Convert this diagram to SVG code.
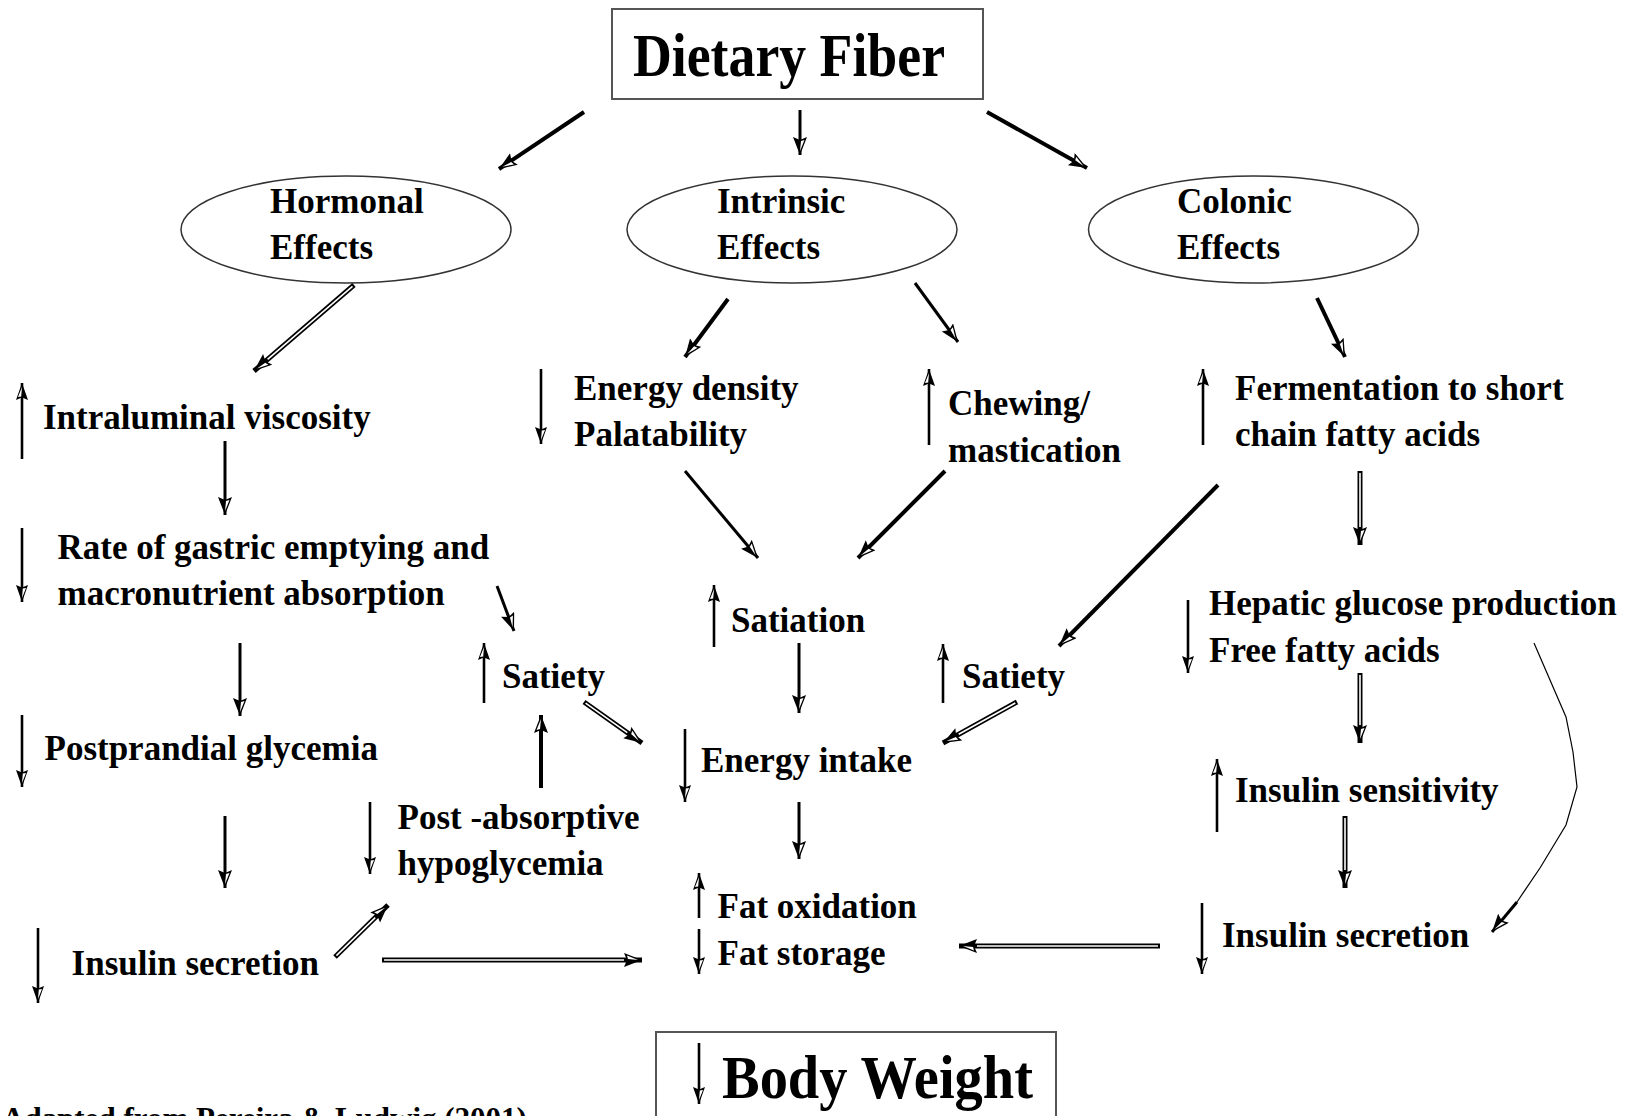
<svg xmlns="http://www.w3.org/2000/svg" width="1644" height="1116" viewBox="0 0 1644 1116">
<style>
text{font-family:"Liberation Serif","Times New Roman",serif;font-weight:bold;fill:#000}
.t{font-size:35px}
.box{fill:#fff;stroke:#555;stroke-width:2}
.ell{fill:#fff;stroke:#333;stroke-width:1.5}
.thick{stroke:#000;stroke-width:4;fill:none;marker-end:url(#hd)}
.med{stroke:#000;stroke-width:3;fill:none;marker-end:url(#hd)}
.ind{stroke:#000;stroke-width:2.6;fill:none;marker-end:url(#hs)}
.dout{stroke:#000;stroke-width:5;fill:none;marker-end:url(#hd)}
.din{stroke:#fff;stroke-width:1.6;fill:none}
.thinc{stroke:#000;stroke-width:1.2;fill:none}
</style>
<defs>
<marker id="hd" markerUnits="userSpaceOnUse" markerWidth="20" markerHeight="16" refX="18" refY="7" orient="auto">
<path d="M0,0 L18,7 L0,14 L3,7 Z" fill="#000"/>
<path d="M3,2.5 L14,7 L4,6 Z" fill="#fff"/>
</marker>
<marker id="hs" markerUnits="userSpaceOnUse" markerWidth="19" markerHeight="14" refX="17" refY="6" orient="auto">
<path d="M0,0 L17,6 L0,12 L2.5,6 Z" fill="#000"/>
<path d="M3,2 L13,6 L3.5,5.2 Z" fill="#fff"/>
</marker>
</defs>
<rect width="1644" height="1116" fill="#fff"/>

<g id="node-dietary-fiber">
<rect class="box" x="612" y="9" width="371" height="90"/>
<text x="633" y="76" font-size="62" textLength="312" lengthAdjust="spacingAndGlyphs">Dietary Fiber</text>
</g>
<g id="node-hormonal">
<ellipse class="ell" cx="346" cy="229.5" rx="165" ry="53.5"/>
<text class="t" x="270" y="213">Hormonal</text>
<text class="t" x="270" y="259">Effects</text>
</g>
<g id="node-intrinsic">
<ellipse class="ell" cx="792" cy="229.5" rx="165" ry="53.5"/>
<text class="t" x="717" y="213">Intrinsic</text>
<text class="t" x="717" y="259">Effects</text>
</g>
<g id="node-colonic">
<ellipse class="ell" cx="1253.5" cy="229.5" rx="165" ry="53.5"/>
<text class="t" x="1177" y="213">Colonic</text>
<text class="t" x="1177" y="259">Effects</text>
</g>

<g id="node-intraluminal">
<line class="ind" x1="22" y1="459" x2="22" y2="383"/>
<text class="t" x="43" y="429">Intraluminal viscosity</text>
</g>
<g id="node-gastric">
<line class="ind" x1="22" y1="528" x2="22" y2="602"/>
<text class="t" x="57.5" y="559">Rate of gastric emptying and</text>
<text class="t" x="57.5" y="605">macronutrient absorption</text>
</g>
<g id="node-postprandial">
<line class="ind" x1="22" y1="715" x2="22" y2="787"/>
<text class="t" x="44.5" y="760">Postprandial glycemia</text>
</g>
<g id="node-insulin-left">
<line class="ind" x1="38" y1="928" x2="38" y2="1003"/>
<text class="t" x="71.6" y="975">Insulin secretion</text>
</g>
<g id="node-satiety-left">
<line class="ind" x1="484" y1="703" x2="484" y2="643"/>
<text class="t" x="502" y="688">Satiety</text>
</g>
<g id="node-hypoglycemia">
<line class="ind" x1="370" y1="802" x2="370" y2="874"/>
<text class="t" x="397.5" y="829">Post -absorptive</text>
<text class="t" x="397.5" y="875">hypoglycemia</text>
</g>
<g id="node-energy-density">
<line class="ind" x1="541" y1="369" x2="541" y2="444"/>
<text class="t" x="574" y="400">Energy density</text>
<text class="t" x="574" y="446">Palatability</text>
</g>
<g id="node-satiation">
<line class="ind" x1="714" y1="647" x2="714" y2="585"/>
<text class="t" x="731" y="632">Satiation</text>
</g>
<g id="node-energy-intake">
<line class="ind" x1="685" y1="729" x2="685" y2="802"/>
<text class="t" x="701" y="772">Energy intake</text>
</g>
<g id="node-fat">
<line class="ind" x1="699" y1="918" x2="699" y2="873"/>
<line class="ind" x1="699" y1="929" x2="699" y2="974"/>
<text class="t" x="717.5" y="918">Fat oxidation</text>
<text class="t" x="717.5" y="965">Fat storage</text>
</g>
<g id="node-chewing">
<line class="ind" x1="929" y1="445" x2="929" y2="369"/>
<text class="t" x="948" y="415">Chewing/</text>
<text class="t" x="948" y="462">mastication</text>
</g>
<g id="node-satiety-right">
<line class="ind" x1="943" y1="703" x2="943" y2="644"/>
<text class="t" x="962" y="688">Satiety</text>
</g>
<g id="node-fermentation">
<line class="ind" x1="1203" y1="445" x2="1203" y2="369"/>
<text class="t" x="1235" y="400">Fermentation to short</text>
<text class="t" x="1235" y="446">chain fatty acids</text>
</g>
<g id="node-hepatic">
<line class="ind" x1="1188" y1="600" x2="1188" y2="673"/>
<text class="t" x="1209" y="615">Hepatic glucose production</text>
<text class="t" x="1209" y="662">Free fatty acids</text>
</g>
<g id="node-insulin-sensitivity">
<line class="ind" x1="1217" y1="832" x2="1217" y2="759"/>
<text class="t" x="1235" y="802">Insulin sensitivity</text>
</g>
<g id="node-insulin-right">
<line class="ind" x1="1202" y1="903" x2="1202" y2="974"/>
<text class="t" x="1222" y="947">Insulin secretion</text>
</g>
<g id="node-body-weight">
<rect class="box" x="656" y="1032" width="400" height="100"/>
<line class="ind" x1="699" y1="1043" x2="699" y2="1104"/>
<text x="722" y="1098" font-size="62" textLength="311" lengthAdjust="spacingAndGlyphs">Body Weight</text>
</g>
<g id="caption">
<text x="2" y="1129" font-size="31">Adapted from Pereira &amp; Ludwig (2001)</text>
</g>

<g id="connectors">
<line class="thick" x1="584" y1="112" x2="499" y2="169"/>
<line class="med" x1="800" y1="110" x2="800" y2="155"/>
<line class="thick" x1="987" y1="112" x2="1087" y2="168"/>
<line class="dout" x1="354" y1="285" x2="254" y2="371"/><line class="din" x1="352.5" y1="286.3" x2="267.6" y2="359.3"/>
<line class="thick" x1="728" y1="299" x2="685" y2="357"/>
<line class="med" x1="915" y1="283" x2="958" y2="342"/>
<line class="thick" x1="1317" y1="298" x2="1345" y2="357"/>
<line class="med" x1="225" y1="441" x2="225" y2="515"/>
<line class="med" x1="497" y1="586" x2="514" y2="631"/>
<line class="med" x1="240" y1="643" x2="240" y2="716"/>
<line class="med" x1="225" y1="816" x2="225" y2="888"/>
<line class="dout" x1="335" y1="957" x2="388" y2="905"/><line class="din" x1="336.4" y1="955.6" x2="375.2" y2="917.6"/>
<line class="dout" x1="382" y1="960" x2="642" y2="960"/><line class="din" x1="384" y1="960" x2="624" y2="960"/>
<line class="thick" x1="541" y1="788" x2="541" y2="715"/>
<line class="dout" x1="584" y1="702" x2="642" y2="743"/><line class="din" x1="585.6" y1="703.2" x2="627.3" y2="732.6"/>
<line class="med" x1="685" y1="471" x2="758" y2="558"/>
<line class="thick" x1="945" y1="471" x2="858" y2="558"/>
<line class="med" x1="799" y1="643" x2="799" y2="713"/>
<line class="med" x1="799" y1="802" x2="799" y2="859"/>
<line class="thick" x1="1218" y1="485" x2="1059" y2="646"/>
<line class="dout" x1="1360" y1="471" x2="1360" y2="545"/><line class="din" x1="1360" y1="473" x2="1360" y2="527"/>
<line class="dout" x1="1360" y1="673" x2="1360" y2="743"/><line class="din" x1="1360" y1="675" x2="1360" y2="725"/>
<line class="dout" x1="1017" y1="702" x2="943" y2="743"/><line class="din" x1="1015.3" y1="703" x2="958.7" y2="734.3"/>
<line class="dout" x1="1345" y1="816" x2="1345" y2="888"/><line class="din" x1="1345" y1="818" x2="1345" y2="870"/>
<line class="dout" x1="1160" y1="946" x2="959" y2="946"/><line class="din" x1="1158" y1="946" x2="977" y2="946"/>
<path class="thinc" d="M1534,643 L1566,717 L1573,752 L1577,787 L1566,825 L1540,868 L1517,902"/>
<line class="med" x1="1517" y1="902" x2="1492" y2="932"/>
</g>
</svg>
